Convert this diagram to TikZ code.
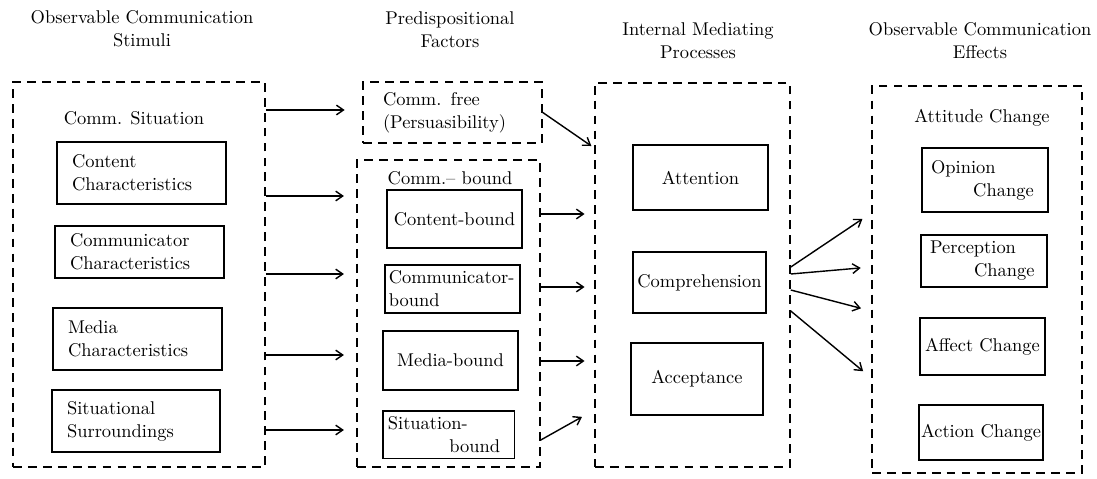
\documentclass[tikz,border=0pt]{standalone}
\usetikzlibrary{arrows.meta,positioning}

\begin{document}
\begin{tikzpicture}[x=0.02cm,y=-0.02cm,every node/.style={font=\fontsize{10.5}{13}\selectfont},
  group/.style={draw,line width=.9pt,dash pattern=on 5pt off 3.5pt,inner sep=0pt},
  item/.style={draw,line width=1pt,align=center},
  arr/.style={-{Straight Barb[length=4pt,width=5.5pt]},line width=.8pt}]
\useasboundingbox (0,0) rectangle (1097,479);
% headings
\node[align=center] (hstim) at (142,29) {Observable Communication\\Stimuli};
\node[align=center] (hpred) at (450,30) {Predispositional\\Factors};
\node[align=center] (hproc) at (698,41) {Internal Mediating\\Processes};
\node[align=center] (heff) at (980,41) {Observable Communication\\Effects};
% dashed groups
\node[group,minimum width=5.04cm,minimum height=7.7cm] (stim) at (139,274.5) {};
\node[group,align=left,text width=2.78cm,inner xsep=0.4cm,minimum height=1.22cm] (free) at (452.5,112.5) {Comm. free\\(Persuasibility)};
\node[group,minimum width=3.66cm,minimum height=6.14cm] (bound) at (448.5,313.5) {};
\node[group,minimum width=3.9cm,minimum height=7.68cm] (proc) at (692.5,275) {};
\node[group,minimum width=4.2cm,minimum height=7.74cm] (eff) at (977,279.5) {};
\node (lsit) at (134,118) {Comm. Situation};
\node (lbound) at (450,178) {Comm.-- bound};
\node (latt) at (982,118) {Attitude Change};
% stimuli
\node[item,align=left,text width=2.78cm,inner xsep=0.3cm,minimum height=1.24cm] (cont) at (141.5,173) {Content\\Characteristics};
\node[item,align=left,text width=2.78cm,inner xsep=0.3cm,minimum height=1.04cm] (comr) at (139.5,252) {Communicator\\Characteristics};
\node[item,align=left,text width=2.78cm,inner xsep=0.3cm,minimum height=1.24cm] (medi) at (137.5,339) {Media\\Characteristics};
\node[item,align=left,text width=2.76cm,inner xsep=0.3cm,minimum height=1.24cm] (situ) at (136,421) {Situational\\Surroundings};
% predispositions
\node[item,minimum width=2.7cm,minimum height=1.16cm] (contb) at (454.5,219) {Content-bound};
\node[item,align=left,text width=72.5pt,inner xsep=2pt,minimum height=.96cm] (comrb) at (452.5,289) {Communicator-\\bound};
\node[item,minimum width=2.7cm,minimum height=1.18cm] (medib) at (450.5,360.5) {Media-bound};
\node[item,align=left,text width=69pt,inner xsep=3pt,minimum height=.9cm] (situb) at (448.5,434.5) {Situation-\\\hspace*{35pt}bound};
% mediating processes
\node[item,minimum width=2.7cm,minimum height=1.3cm] (att) at (700.5,177.5) {Attention};
\node[item,minimum width=2.66cm,minimum height=1.22cm,inner xsep=2pt] (comp) at (699.5,282.5) {Comprehension};
\node[item,minimum width=2.64cm,minimum height=1.44cm] (acc) at (697,379) {Acceptance};
% effects
\node[item,align=left,text width=61.4pt,inner xsep=5pt,minimum height=1.28cm] (opin) at (985,180) {Opinion\\\hspace*{24pt}Change};
\node[item,align=left,text width=61.4pt,inner xsep=5pt,minimum height=1.04cm] (perc) at (984,261) {Perception\\\hspace*{25pt}Change};
\node[item,minimum width=2.5cm,minimum height=1.14cm,inner xsep=2pt] (affe) at (982.5,346.5) {Affect Change};
\node[item,minimum width=2.48cm,minimum height=1.1cm,inner xsep=1pt] (acti) at (981,432.5) {Action Change};
% arrows
\draw[arr,shorten >=10pt] (stim.east |- 0,110) -- (free.west |- 0,110);
\foreach \y in {196,274,355,430}
  \draw[arr,shorten >=7pt] (stim.east |- 0,\y) -- (bound.west |- 0,\y);
\draw[arr,shorten >=2pt] (free.east) -- (proc.west |- 0,148);
\foreach \y in {214,287,361}
  \draw[arr,shorten >=5.5pt] (bound.east |- 0,\y) -- (proc.west |- 0,\y);
\draw[arr,shorten >=8pt] (bound.east |- 0,440) -- (proc.west |- 0,410);
\foreach \a/\b in {267/213,274/267,290/311,311/378}
  \draw[arr,shorten >=6pt] (proc.east |- 0,\a) -- (eff.west |- 0,\b);
\end{tikzpicture}
\end{document}
